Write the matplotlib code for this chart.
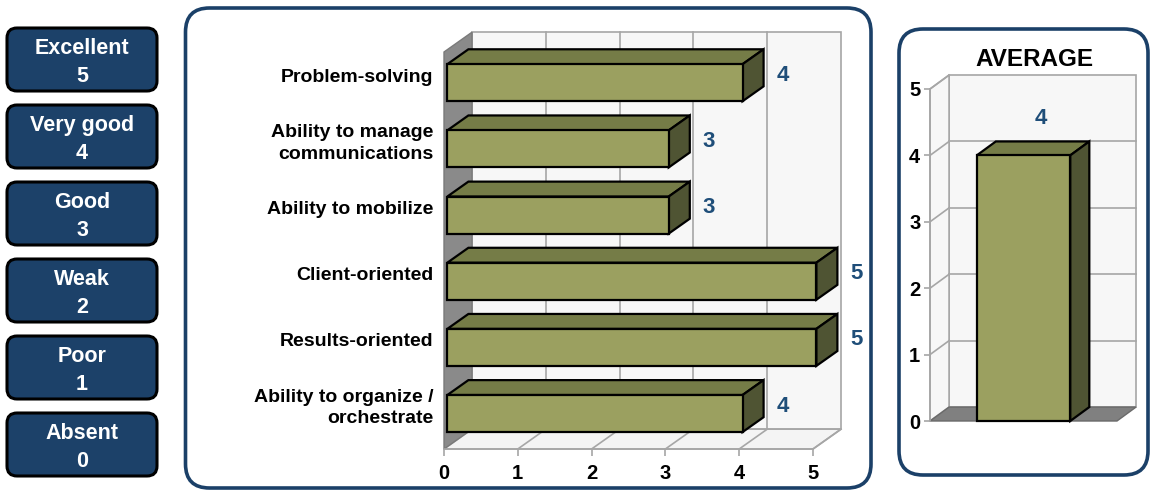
import matplotlib.pyplot as plt
from matplotlib.patches import FancyBboxPatch, Polygon, Rectangle

plt.rcParams['font.family'] = ['Liberation Sans', 'DejaVu Sans']
plt.rcParams['font.weight'] = 'bold'

# rating scale shown on the left
scale_labels = ['Excellent', 'Very good', 'Good', 'Weak', 'Poor', 'Absent']
scale_values = [5, 4, 3, 2, 1, 0]

# competencies, top to bottom
categories = ['Problem-solving', 'Ability to manage\ncommunications', 'Ability to mobilize',
              'Client-oriented', 'Results-oriented', 'Ability to organize /\norchestrate']
scores = [4, 3, 3, 5, 5, 4]

avg_label = 'AVERAGE'
avg_value = 4

NAVY = '#1b4068'
FRONT = '#9ba060'
TOP = '#757c47'
SIDE = '#4f5433'
GRID = '#a6a6a6'
WALL = '#f7f7f7'
LABEL = '#1f4e79'

fig = plt.figure(figsize=(11.5, 4.9), dpi=100)

# background layer in pixel coordinates
bg = fig.add_axes([0, 0, 1, 1])
bg.set_xlim(0, 1150)
bg.set_ylim(490, 0)
bg.axis('off')

for k, (name, val) in enumerate(zip(scale_labels, scale_values)):
    y0 = 28 + k * 77
    box = FancyBboxPatch((7, y0), 150, 63, boxstyle='round,pad=0,rounding_size=10',
                         facecolor='#1c4169', edgecolor='black', linewidth=2.2)
    bg.add_patch(box)
    bg.text(82, y0 + 20, name, color='white', fontsize=15.5, ha='center', va='center')
    bg.text(82, y0 + 48, str(val), color='white', fontsize=15.5, ha='center', va='center')

bg.add_patch(FancyBboxPatch((185.5, 8), 685.5, 480, boxstyle='round,pad=0,rounding_size=24',
                            facecolor='white', edgecolor=NAVY, linewidth=2.6))
bg.add_patch(FancyBboxPatch((899, 29), 249, 446, boxstyle='round,pad=0,rounding_size=24',
                            facecolor='white', edgecolor=NAVY, linewidth=2.6))
bg.text(1034, 60, avg_label, fontsize=17.5, ha='center', va='center')

# ---- horizontal 3D-looking bar chart ----
ax = fig.add_axes([444 / 1150, 41 / 490, 369 / 1150, 397 / 490])
ax.set_facecolor('none')
n = len(categories)
ax.set_xlim(0, 5)
ax.set_ylim(-0.5, n - 0.5)
ddx, ddy = 0.38, 0.30      # depth of the box
f, b, h = 0.12, 0.75, 0.56  # bar front offset, bar depth, bar thickness
lo, hi = -0.5, n - 0.5

kw = dict(clip_on=False)
ax.add_patch(Rectangle((ddx, lo + ddy), 5, n, facecolor=WALL, edgecolor=GRID, lw=1.2, zorder=1, **kw))
ax.add_patch(Polygon([(0, lo), (5, lo), (5 + ddx, lo + ddy), (ddx, lo + ddy)], closed=True,
                     facecolor='#f4f4f4', edgecolor=GRID, lw=1.2, zorder=1, **kw))
ax.add_patch(Polygon([(0, lo), (ddx, lo + ddy), (ddx, hi + ddy), (0, hi)], closed=True,
                     facecolor='#8a8a8a', edgecolor='#7a7a7a', lw=1, zorder=1, **kw))
for v in range(1, 5):
    ax.plot([v + ddx, v + ddx], [lo + ddy, hi + ddy], color=GRID, lw=1.2, zorder=1.5, **kw)
for v in range(1, 6):
    ax.plot([v, v + ddx], [lo, lo + ddy], color=GRID, lw=1.2, zorder=1.5, **kw)

for idx, (cat, v) in enumerate(zip(categories, scores)):
    i = n - 1 - idx
    x0 = f * ddx
    y0 = i - h / 2 + f * ddy
    y1 = y0 + h
    ekw = dict(edgecolor='black', lw=1.6, zorder=3, clip_on=False)
    ax.add_patch(Polygon([(x0, y1), (x0 + v, y1), (x0 + v + b * ddx, y1 + b * ddy),
                          (x0 + b * ddx, y1 + b * ddy)], closed=True, facecolor=TOP, **ekw))
    ax.add_patch(Polygon([(x0 + v, y0), (x0 + v + b * ddx, y0 + b * ddy),
                          (x0 + v + b * ddx, y1 + b * ddy), (x0 + v, y1)], closed=True,
                         facecolor=SIDE, **ekw))
    ax.add_patch(Rectangle((x0, y0), v, h, facecolor=FRONT, **ekw))
    ax.text(x0 + v + b * ddx + 0.17, i + f * ddy + b * ddy / 2, str(v), color=LABEL,
            fontsize=16, ha='left', va='center', zorder=4, clip_on=False)
    ax.text(-0.14, i + 0.12, cat, fontsize=14, ha='right', va='center',
            multialignment='right', linespacing=1.35, clip_on=False)

for s in ['top', 'right', 'left']:
    ax.spines[s].set_visible(False)
ax.spines['bottom'].set_color(GRID)
ax.spines['bottom'].set_linewidth(1.2)
ax.set_yticks([])
ax.set_xticks(range(6))
ax.tick_params(axis='x', length=5, color=GRID, width=1.2, labelsize=14.5, pad=6)

# ---- average column ----
ax2 = fig.add_axes([930 / 1150, 69 / 490, 187 / 1150, 332 / 490])
ax2.set_facecolor('none')
ax2.set_xlim(-0.5, 0.5)
ax2.set_ylim(0, 5)
dx2, dy2 = 0.102, 0.21
ax2.add_patch(Rectangle((-0.5 + dx2, dy2), 1, 5, facecolor=WALL, edgecolor=GRID, lw=1.2, zorder=1, **kw))
ax2.add_patch(Polygon([(-0.5, 0), (-0.5 + dx2, dy2), (-0.5 + dx2, 5 + dy2), (-0.5, 5)], closed=True,
                      facecolor=WALL, edgecolor=GRID, lw=1.2, zorder=1, **kw))
ax2.add_patch(Polygon([(-0.5, 0), (0.5, 0), (0.5 + dx2, dy2), (-0.5 + dx2, dy2)], closed=True,
                      facecolor='#808080', edgecolor='#6a6a6a', lw=1, zorder=1, **kw))
for v in range(1, 5):
    ax2.plot([-0.5 + dx2, 0.5 + dx2], [v + dy2, v + dy2], color=GRID, lw=1.2, zorder=1.5, **kw)
for v in range(1, 6):
    ax2.plot([-0.5, -0.5 + dx2], [v, v + dy2], color=GRID, lw=1.2, zorder=1.5, **kw)

bw = 0.25
ekw = dict(edgecolor='black', lw=1.6, zorder=3, clip_on=False)
ax2.add_patch(Polygon([(-bw, avg_value), (bw, avg_value), (bw + dx2, avg_value + dy2),
                       (-bw + dx2, avg_value + dy2)], closed=True, facecolor=TOP, **ekw))
ax2.add_patch(Polygon([(bw, 0), (bw + dx2, dy2), (bw + dx2, avg_value + dy2), (bw, avg_value)],
                      closed=True, facecolor=SIDE, **ekw))
ax2.add_patch(Rectangle((-bw, 0), 2 * bw, avg_value, facecolor=FRONT, **ekw))
ax2.text(0.09, avg_value + dy2 + 0.35, str(avg_value), color=LABEL, fontsize=16,
         ha='center', va='center', zorder=4)

for s in ['top', 'right', 'bottom']:
    ax2.spines[s].set_visible(False)
ax2.spines['left'].set_color(GRID)
ax2.spines['left'].set_linewidth(1.2)
ax2.set_xticks([])
ax2.set_yticks(range(6))
ax2.tick_params(axis='y', length=4, color=GRID, width=1.2, labelsize=14.5, pad=3)

fig.savefig('out.png', dpi=100)
